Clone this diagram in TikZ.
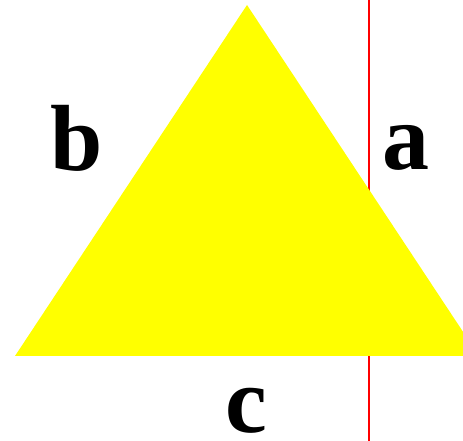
\documentclass[tikz,border=0pt]{standalone}
\usepackage{fontspec}
\setmainfont{Liberation Serif}
\usepackage{tikz}
\usetikzlibrary{calc}
\definecolor{lemon}{HTML}{FFFF00}
\definecolor{cutline}{HTML}{FF0000}
\tikzset{
  side/.style={font=\fontsize{94}{94}\selectfont\bfseries, anchor=base, inner sep=0pt},
  tri/.style={fill=lemon, draw=none},
  probe/.style={draw=cutline, line width=1.5pt}
}
\begin{document}
\begin{tikzpicture}[x=1pt, y=1pt]
 \useasboundingbox (0,0) rectangle (463,441);
 \clip (0,0) rectangle (463,441);
 \coordinate (top) at (369,441); \coordinate (bot) at (369,0);
 \draw[probe] (top) -- (bot);
 \coordinate (A) at (15,85); \coordinate (B) at (479,85); \coordinate (C) at (247,436);
 \fill[tri] (A) -- (B) -- (C) -- cycle;
 \node[side] (b) at (76.5,270) {b};
 \node[side] (a) at (406,271) {a};
 \node[side] (c) at (246,8) {c};
\end{tikzpicture}
\end{document}
